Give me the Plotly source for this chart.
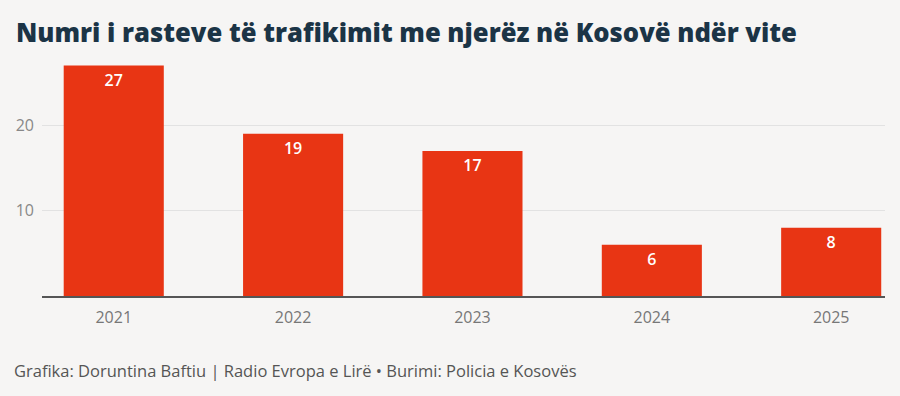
import plotly.graph_objects as go

years = ["2021", "2022", "2023", "2024", "2025"]
cases = [27, 19, 17, 6, 8]
y_ticks = [10, 20]

title = "Numri i rasteve të trafikimit me njerëz në Kosovë ndër vite"
footer = "Grafika: Doruntina Baftiu | Radio Evropa e Lirë • Burimi: Policia e Kosovës"

bg = "#f6f5f4"
fig = go.Figure(go.Bar(
    x=list(range(len(years))), y=cases,
    marker=dict(color="#e83514", line=dict(width=0)),
    text=[str(v) for v in cases], textposition="inside", insidetextanchor="end",
    textfont=dict(color="white", size=16, family="Open Sans, sans-serif", weight=600),
    textangle=0,
    width=0.558,
))
fig.update_layout(
    width=900, height=396, paper_bgcolor=bg, plot_bgcolor=bg,
    margin=dict(l=42, r=15, t=57, b=100),
    showlegend=False,
    font=dict(family="Open Sans, sans-serif"),
)
fig.update_xaxes(
    range=[-0.4, 4.3], tickmode="array", tickvals=list(range(len(years))), ticktext=years,
    showgrid=False, showline=True, linecolor="#555", linewidth=1.5, ticks="",
    tickfont=dict(size=16, color="#777"), zeroline=False, ticklabelstandoff=6,
)
fig.update_yaxes(
    range=[0, 28], tickvals=y_ticks, showgrid=True, gridcolor="#e2e2e2", gridwidth=1,
    zeroline=False, showline=False, ticks="", tickfont=dict(size=16, color="#888"),
    ticklabelstandoff=7,
)
fig.add_annotation(text=title, xref="paper", yref="paper", x=-28/843, y=1 + 24/239,
                   xanchor="left", yanchor="middle", showarrow=False,
                   font=dict(size=25.6, color="#1b3446", family="Open Sans, sans-serif", weight=800))
fig.add_annotation(text=footer, xref="paper", yref="paper", x=-30/843, y=-74/239,
                   xanchor="left", yanchor="middle", showarrow=False,
                   font=dict(size=16.5, color="#555", family="Open Sans, sans-serif"))
fig.write_html("out.html")
